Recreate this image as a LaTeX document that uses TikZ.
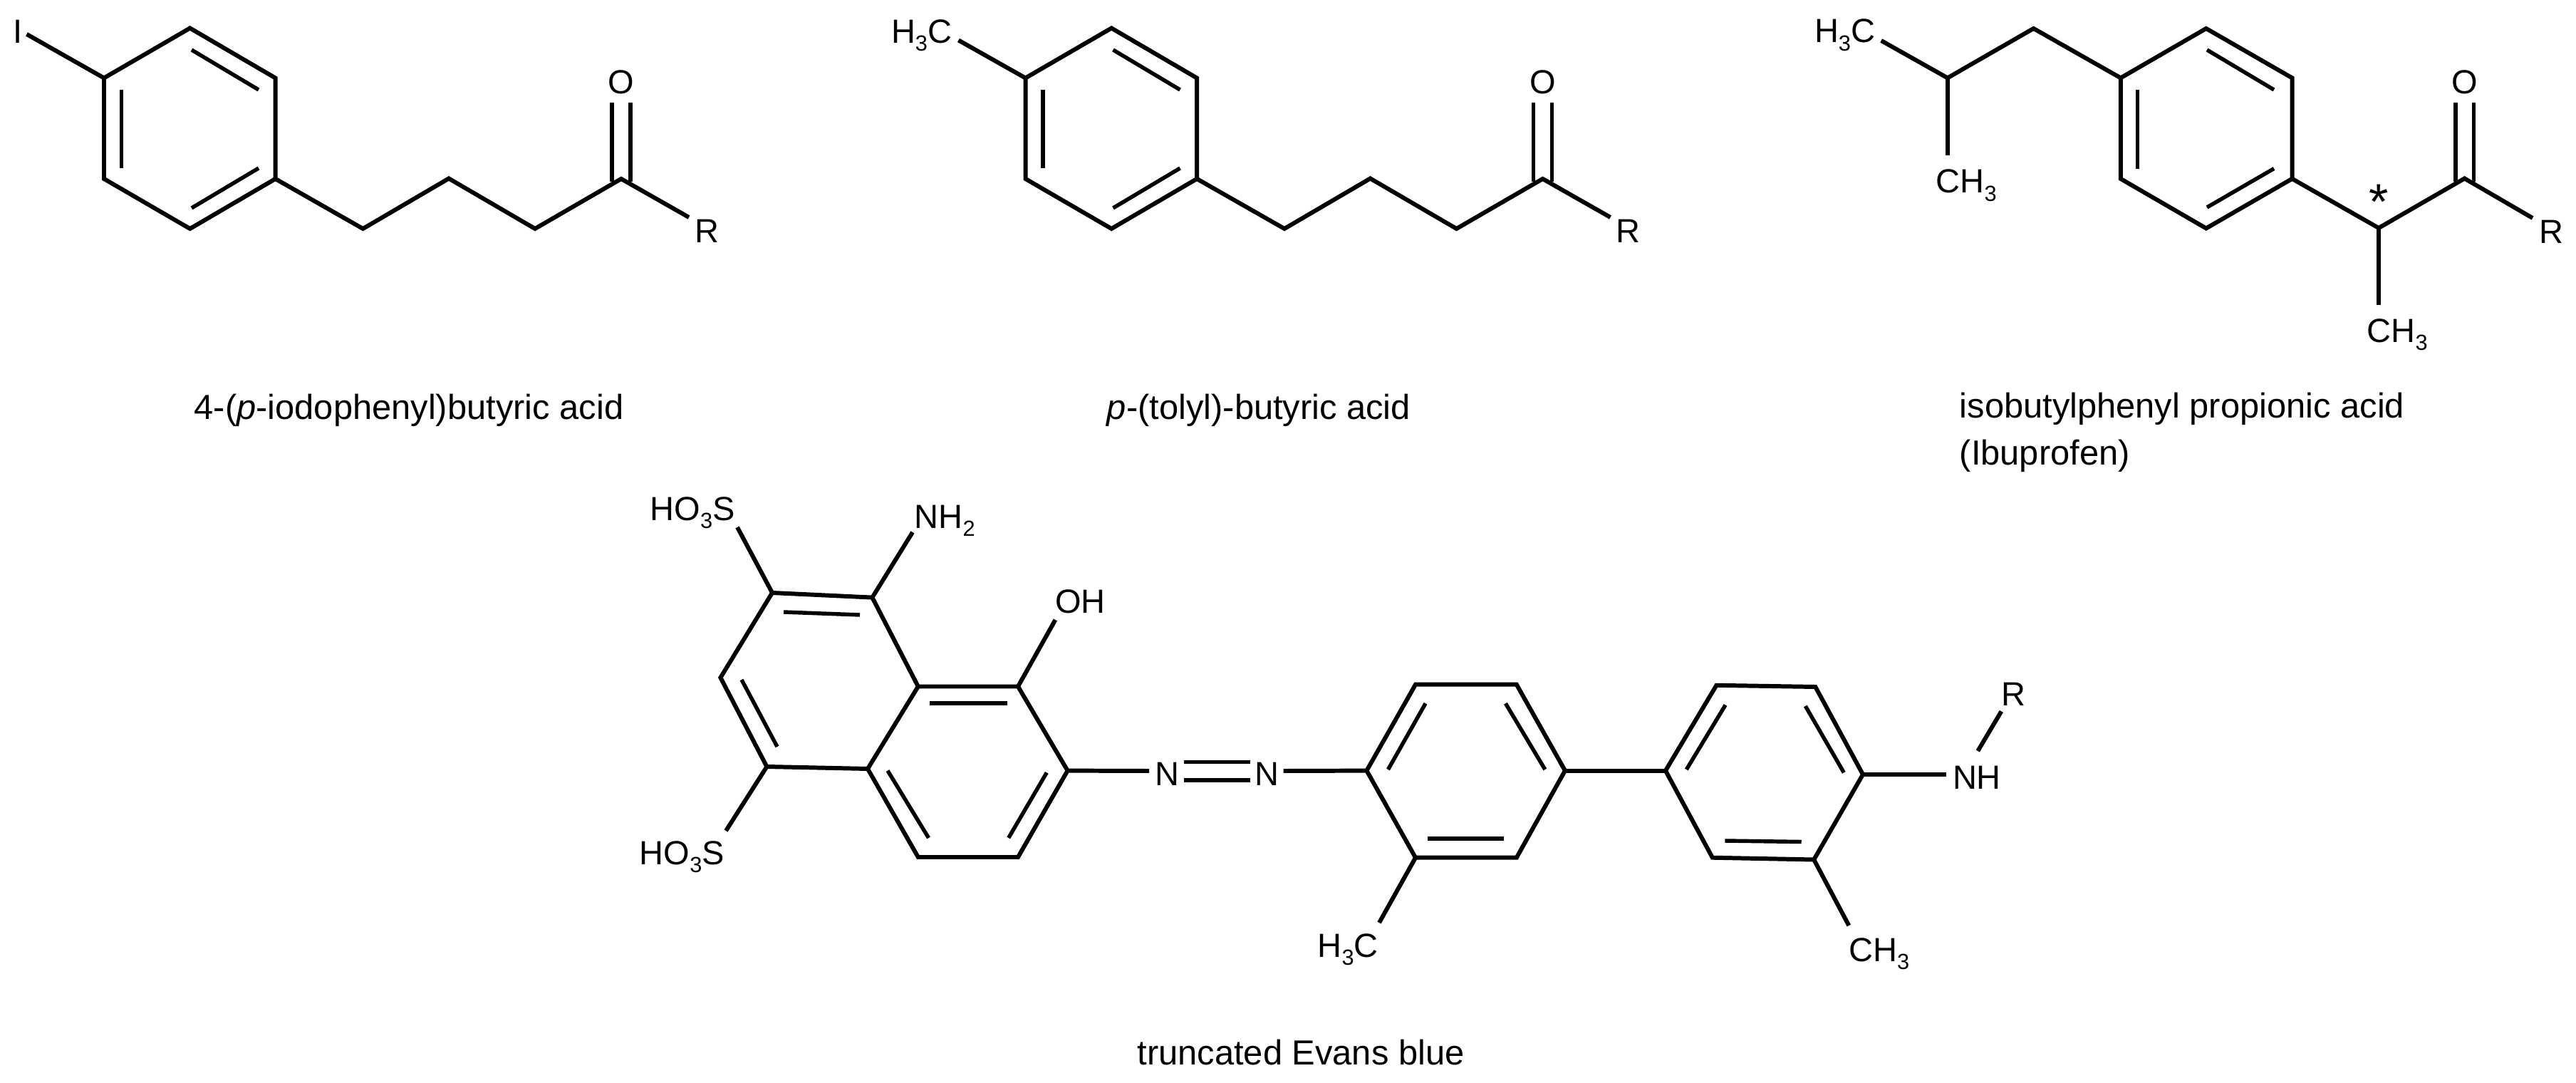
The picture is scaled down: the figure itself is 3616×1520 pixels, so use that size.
\documentclass[tikz,border=0pt]{standalone}
\usepackage{fontspec}
\setmainfont{Liberation Sans}
\newcommand{\lsub}[1]{\raisebox{-0.24em}{\fontsize{17.5pt}{17.5pt}\selectfont #1}}
\newcommand{\chainmol}{%
  \coordinate (r1) at (266.7,39.5);
  \coordinate (r2) at (386.6,109.5);
  \coordinate (r3) at (386.6,251);
  \coordinate (r4) at (266.7,321);
  \coordinate (r5) at (146,251);
  \coordinate (r6) at (146,109.5);
  \coordinate (c1) at (509.5,321);
  \coordinate (c2) at (630,250.5);
  \coordinate (c3) at (751,321);
  \coordinate (c4) at (872,251);
  \coordinate (rend) at (967,305);
  \coordinate (d1a) at (269,70);   \coordinate (d1b) at (363,126);
  \coordinate (d2a) at (269,292);  \coordinate (d2b) at (363,236);
  \coordinate (d3a) at (170.6,126);\coordinate (d3b) at (170.6,236);
  \coordinate (oa1) at (859,255);  \coordinate (oa2) at (859,144);
  \coordinate (ob1) at (885,255);  \coordinate (ob2) at (885,144);
  \node[lab,anchor=base] (oo) at (872,132) {O};
  \node[lab,anchor=base] (rr) at (992,340) {R};
  \draw[bond] (r1)--(r2)--(r3)--(r4)--(r5)--(r6)--cycle;
  \draw[bond] (r3)--(c1)--(c2)--(c3)--(c4)--(rend);
  \draw[innerbond] (d1a)--(d1b);
  \draw[innerbond] (d2a)--(d2b);
  \draw[innerbond] (d3a)--(d3b);
  \draw[innerbond] (oa1)--(oa2);
  \draw[innerbond] (ob1)--(ob2);
}
\begin{document}
\begin{tikzpicture}[x=0.02cm,y=-0.02cm,
  bond/.style={line width=3.4pt,line join=miter,black},
  innerbond/.style={line width=3.1pt,black},
  lab/.style={inner sep=0pt,outer sep=0pt,font=\fontsize{26.75pt}{26.75pt}\selectfont,text=black},
  starlab/.style={inner sep=0pt,outer sep=0pt,font=\fontsize{40pt}{40pt}\selectfont,text=black},
  captiontext/.style={inner sep=0pt,outer sep=0pt,font=\fontsize{27.8pt}{38pt}\selectfont,text=black}]
\path[use as bounding box,fill=white] (0,0) rectangle (3616,1520);

% --- 4-(p-iodophenyl)butyric acid
\begin{scope}[name prefix=a-]
  \chainmol
  \coordinate (ibond) at (37.5,48);
  \node[lab,anchor=base] (ii) at (25.5,61) {I};
  \draw[bond] (ibond)--(r6);
  \node[captiontext,anchor=base] (capa) at (574,588) {4-(\textit{p}-iodophenyl)butyric acid};
\end{scope}

% --- p-(tolyl)-butyric acid
\begin{scope}[shift={(1293.5,0)},name prefix=b-]
  \chainmol
  \coordinate (mbond) at (52,56.5);
  \node[lab,anchor=base west] (me) at (-42.5,60.5) {H\lsub{3}C};
  \draw[bond] (mbond)--(r6);
  \node[captiontext,anchor=base] (capb) at (473.5,588) {\textit{p}-(tolyl)-butyric acid};
\end{scope}

% --- ibuprofen
\coordinate (c-r1) at (3096.8,40);
\coordinate (c-r2) at (3217.5,109.4);
\coordinate (c-r3) at (3217.5,250.9);
\coordinate (c-r4) at (3096.8,320.5);
\coordinate (c-r5) at (2976.8,250.9);
\coordinate (c-r6) at (2976.8,109.4);
\coordinate (c-s1) at (2854.5,40);
\coordinate (c-s2) at (2733.8,109.4);
\coordinate (c-s3) at (2640.7,57);
\coordinate (c-s4) at (2733.8,218);
\coordinate (c-t1) at (3339,320);
\coordinate (c-t2) at (3459.5,250.5);
\coordinate (c-t3) at (3555,306);
\coordinate (c-t4) at (3339,427.6);
\coordinate (c-oa1) at (3447,255); \coordinate (c-oa2) at (3447,144.3);
\coordinate (c-ob1) at (3472.3,255); \coordinate (c-ob2) at (3472.3,144.3);
\coordinate (c-d1a) at (3098,70);    \coordinate (c-d1b) at (3192,126);
\coordinate (c-d2a) at (3098,291);   \coordinate (c-d2b) at (3192,236.6);
\coordinate (c-d3a) at (3000.6,126); \coordinate (c-d3b) at (3000.6,236.6);
\draw[bond] (c-r1)--(c-r2)--(c-r3)--(c-r4)--(c-r5)--(c-r6)--cycle;
\draw[bond] (c-s3)--(c-s2)--(c-s1)--(c-r6);
\draw[bond] (c-s2)--(c-s4);
\draw[bond] (c-r3)--(c-t1)--(c-t2)--(c-t3);
\draw[bond] (c-t1)--(c-t4);
\draw[innerbond] (c-oa1)--(c-oa2);
\draw[innerbond] (c-ob1)--(c-ob2);
\draw[innerbond] (c-d1a)--(c-d1b);
\draw[innerbond] (c-d2a)--(c-d2b);
\draw[innerbond] (c-d3a)--(c-d3b);
\node[lab,anchor=base west] (c-me1) at (2547,60) {H\lsub{3}C};
\node[lab,anchor=base west] (c-me2) at (2717.6,271) {CH\lsub{3}};
\node[lab,anchor=base west] (c-me3) at (3322.8,480) {CH\lsub{3}};
\node[lab,anchor=base] (c-o) at (3459.7,131.7) {O};
\node[lab,anchor=base] (c-r) at (3581.3,341) {R};
\node[starlab,anchor=base] (c-star) at (3339.3,308) {*};
\node[captiontext,anchor=base west] (c-cap1) at (2750.7,586) {isobutylphenyl propionic acid};
\node[captiontext,anchor=base west] (c-cap2) at (2750.7,652.6) {(Ibuprofen)};

% --- truncated Evans blue
\coordinate (A) at (1084,832);
\coordinate (B) at (1224.4,838.6);
\coordinate (C) at (1288.8,963.5);
\coordinate (D) at (1429,963.5);
\coordinate (E) at (1498.6,1081.6);
\coordinate (F) at (1429,1203);
\coordinate (G) at (1288.8,1203);
\coordinate (H) at (1218,1079);
\coordinate (I) at (1076.4,1076);
\coordinate (J) at (1011.4,951);
\draw[bond] (A)--(B)--(C)--(D)--(E)--(F)--(G)--(H)--(I)--(J)--cycle;
\draw[bond] (C)--(H);
\draw[innerbond] (1100,859) coordinate (i1)--(1207,863) coordinate (i2);
\draw[innerbond] (1041,954) coordinate (i3)--(1091,1048) coordinate (i4);
\draw[innerbond] (1304.7,986.8) coordinate (i5)--(1413.8,986.8) coordinate (i6);
\draw[innerbond] (1415.7,1176) coordinate (i7)--(1469.3,1084.4) coordinate (i8);
\draw[innerbond] (1246,1081.6) coordinate (i9)--(1303.5,1176) coordinate (i10);
\coordinate (sa) at (1035,740);
\coordinate (na) at (1281,747);
\coordinate (oh) at (1481.4,870);
\coordinate (sb) at (1019,1166);
\draw[bond] (sa)--(A);
\draw[bond] (na)--(B);
\draw[bond] (oh)--(D);
\draw[bond] (sb)--(I);
\node[lab,anchor=base west] (hsa) at (912.5,730.5) {HO\lsub{3}S};
\node[lab,anchor=base west] (nh2) at (1283.7,741.5) {NH\lsub{2}};
\node[lab,anchor=base west] (ohl) at (1481.4,860) {OH};
\node[lab,anchor=base west] (hsb) at (897.8,1213) {HO\lsub{3}S};
% azo
\node[lab,anchor=base] (n1) at (1638.8,1102.5) {N};
\node[lab,anchor=base] (n2) at (1778,1102.5) {N};
\coordinate (n1w) at (1613,1082);
\coordinate (n2e) at (1801.7,1082);
\coordinate (z1a) at (1662.3,1069.3); \coordinate (z1b) at (1755,1069.3);
\coordinate (z2a) at (1662.3,1095);   \coordinate (z2b) at (1755,1095);
\draw[bond] (E)--(n1w);
\draw[innerbond] (z1a)--(z1b);
\draw[innerbond] (z2a)--(z2b);
% ring 2
\coordinate (P1) at (1918.4,1081.6);
\coordinate (P2) at (1987,960.7);
\coordinate (P3) at (2128.8,960.7);
\coordinate (P4) at (2196.9,1081.6);
\coordinate (P5) at (2128.8,1203.7);
\coordinate (P6) at (1987,1203.7);
\draw[bond] (P1)--(P2)--(P3)--(P4)--(P5)--(P6)--cycle;
\draw[bond] (n2e)--(P1);
\draw[innerbond] (2001,987.3) coordinate (j1)--(1948.5,1080) coordinate (j2);
\draw[innerbond] (2113.4,987.3) coordinate (j3)--(2168.8,1080) coordinate (j4);
\draw[innerbond] (2004,1177) coordinate (j5)--(2111,1177) coordinate (j6);
\coordinate (m1) at (1936,1295);
\draw[bond] (P6)--(m1);
\node[lab,anchor=base west] (h3c) at (1849.6,1343.5) {H\lsub{3}C};
% ring 3
\coordinate (Q1) at (2337.9,1081.6);
\coordinate (Q2) at (2409.4,961.8);
\coordinate (Q3) at (2548.3,964);
\coordinate (Q4) at (2615,1087);
\coordinate (Q5) at (2546.2,1206.5);
\coordinate (Q6) at (2403.8,1203.7);
\draw[bond] (Q1)--(Q2)--(Q3)--(Q4)--(Q5)--(Q6)--cycle;
\draw[bond] (P4)--(Q1);
\draw[innerbond] (2422,989.5) coordinate (k1)--(2367.3,1080) coordinate (k2);
\draw[innerbond] (2534.3,991) coordinate (k3)--(2588.3,1084.4) coordinate (k4);
\draw[innerbond] (2421.3,1180) coordinate (k5)--(2528.7,1181.5) coordinate (k6);
\coordinate (m2) at (2595.3,1299);
\coordinate (nw) at (2732,1087);
\coordinate (nr1) at (2776.3,1054);
\coordinate (nr2) at (2809.3,998.4);
\draw[bond] (Q5)--(m2);
\draw[bond] (Q4)--(nw);
\draw[bond] (nr1)--(nr2);
\node[lab,anchor=base west] (ch3) at (2595.3,1349) {CH\lsub{3}};
\node[lab,anchor=base west] (nh) at (2741,1107.7) {NH};
\node[lab,anchor=base] (rn) at (2826.8,990) {R};
\node[captiontext,anchor=base] (capd) at (1826,1494.4) {truncated Evans blue};
\end{tikzpicture}
\end{document}
